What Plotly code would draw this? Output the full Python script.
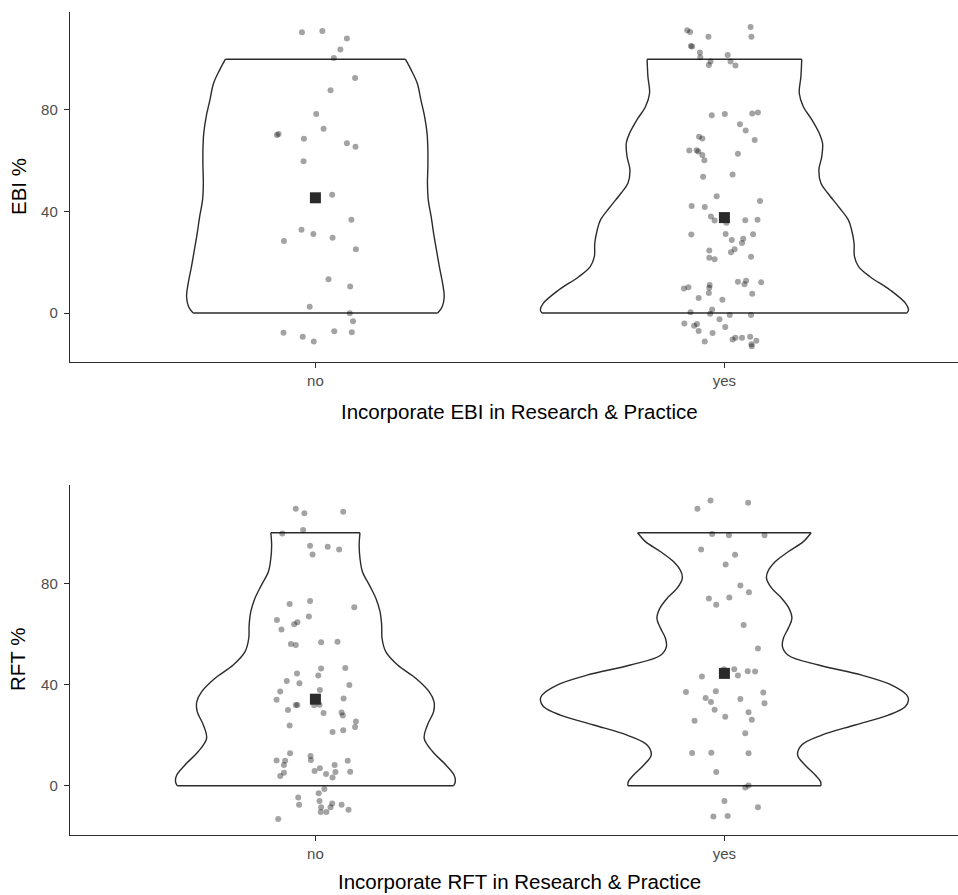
import plotly.graph_objects as go

# ---------------- data ----------------
categories = ["no", "yes"]
cat_pos = [1, 2]
y_ticks = [0, 40, 80]

# Violin outlines: value levels and half-widths (category units)
ebi_no_levels = [0, 2.5, 6.4, 11.7, 18.3, 24.8, 31.4, 38.0, 44.5, 51.1, 57.7, 64.2, 70.8, 77.4, 83.9, 90.5, 95.8, 100]
ebi_no_halfwidth = [0.299, 0.310, 0.315, 0.311, 0.303, 0.296, 0.289, 0.283, 0.276, 0.274, 0.275, 0.275, 0.273, 0.267, 0.258, 0.249, 0.234, 0.220]

ebi_yes_levels = [0, 1.2, 3.8, 9.1, 14.3, 18.3, 22.2, 27.5, 32.7, 36.7, 41.9, 47.2, 51.1, 56.4, 61.6, 66.9, 70.8, 76.1, 81.3, 86.6, 93.1, 100]
ebi_yes_halfwidth = [0.446, 0.450, 0.443, 0.405, 0.356, 0.328, 0.318, 0.317, 0.311, 0.303, 0.279, 0.253, 0.236, 0.231, 0.238, 0.240, 0.232, 0.214, 0.193, 0.183, 0.187, 0.189]

rft_no_levels = [0, 1.6, 4.2, 8.2, 13.4, 18.7, 24.0, 29.3, 33.2, 37.2, 42.4, 47.7, 53.0, 58.2, 63.5, 68.8, 74.0, 79.3, 84.6, 89.9, 95.1, 100]
rft_no_halfwidth = [0.338, 0.342, 0.339, 0.319, 0.287, 0.266, 0.274, 0.289, 0.290, 0.278, 0.246, 0.201, 0.172, 0.163, 0.162, 0.158, 0.148, 0.132, 0.115, 0.109, 0.107, 0.109]

rft_yes_levels = [0, 1.6, 4.2, 8.2, 12.1, 16.1, 20.0, 24.0, 27.9, 31.2, 33.9, 35.8, 39.8, 43.7, 47.7, 51.6, 54.9, 58.2, 62.2, 66.1, 70.1, 74.1, 78.0, 82.0, 84.6, 88.5, 92.5, 96.5, 100]
rft_yes_halfwidth = [0.236, 0.235, 0.222, 0.197, 0.179, 0.189, 0.238, 0.320, 0.401, 0.442, 0.450, 0.446, 0.409, 0.336, 0.230, 0.156, 0.142, 0.144, 0.156, 0.165, 0.158, 0.140, 0.116, 0.103, 0.106, 0.124, 0.156, 0.193, 0.212]

# Jittered observations: horizontal jitter (category units) and jittered value
ebi_no_jitter = [-0.033, 0.017, 0.077, 0.061, 0.045, 0.097, 0.037, 0.002, 0.020, -0.094, -0.090, -0.028, 0.077, 0.098,
                 -0.029, 0.041, 0.088, -0.034, -0.005, 0.042, -0.077, 0.099, 0.032, 0.085, -0.014, 0.084, 0.092,
                 -0.078, -0.031, -0.004, 0.046, 0.089]
ebi_no_values = [110.6, 111.1, 108.2, 103.8, 100.5, 92.6, 87.8, 78.4, 72.6, 70.1, 70.5, 68.7, 66.9, 65.5,
                 59.8, 46.6, 36.8, 32.8, 31.1, 29.7, 28.4, 25.1, 13.3, 10.5, 2.5, -0.1, -3.2,
                 -7.8, -9.3, -11.2, -7.2, -7.6]

ebi_yes_jitter = [-0.091, -0.084, 0.064, -0.039, 0.066, -0.082, -0.079, -0.060, -0.059, 0.008, -0.034, -0.038, 0.015,
                  0.027, -0.031, 0.001, 0.068, 0.082, 0.038, 0.052, -0.062, -0.054, 0.074, -0.086, -0.068, -0.064,
                  -0.054, -0.049, 0.033, -0.052, 0.020, -0.019, 0.087, -0.080, -0.048, -0.033, -0.024, 0.005, 0.051,
                  0.081, -0.081, 0.003, 0.070, 0.018, 0.046, 0.043, -0.037, 0.025, 0.016, -0.037, -0.024, 0.065,
                  0.033, 0.053, 0.049, 0.090, -0.036, -0.037, -0.038, -0.099, -0.088, 0.068, -0.063, -0.005,
                  -0.030, -0.083, -0.035, 0.013, 0.065, -0.012, -0.098, -0.074, -0.067, -0.063, 0.002, -0.029,
                  -0.048, 0.020, 0.027, 0.043, 0.063, 0.078, 0.066, 0.067]
ebi_yes_values = [111.4, 110.7, 112.7, 108.8, 108.8, 105.2, 105.0, 102.6, 100.8, 101.7, 99.1, 97.7, 99.1,
                  97.5, 77.9, 78.4, 78.6, 79.0, 74.4, 71.9, 69.5, 68.8, 68.2, 64.0, 64.1, 63.6,
                  62.3, 60.2, 62.8, 53.7, 54.6, 46.0, 44.1, 42.2, 41.8, 38.0, 36.5, 35.6, 36.6,
                  36.8, 30.9, 31.1, 31.0, 28.8, 29.3, 27.6, 24.6, 25.1, 23.9, 21.8, 21.2, 22.2,
                  12.3, 12.7, 11.3, 12.1, 11.0, 10.0, 7.9, 9.7, 10.2, 7.6, 5.9, 5.2,
                  1.4, 0.3, -0.3, -0.8, -0.8, -2.4, -4.1, -5.0, -4.3, -7.1, -5.5, -7.9,
                  -11.2, -10.4, -9.7, -9.7, -9.3, -10.9, -12.3, -13.1]

rft_no_jitter = [-0.048, -0.027, 0.068, -0.030, -0.081, -0.013, 0.030, 0.058, -0.007, -0.013, -0.063, 0.095,
                 -0.016, -0.094, -0.083, -0.052, -0.044, -0.060, -0.048, 0.014, 0.054, 0.014, 0.073, -0.045,
                 0.007, -0.070, -0.039, 0.083, 0.011, -0.086, -0.095, 0.069, -0.048, -0.044, -0.003, 0.010,
                 -0.067, 0.020, 0.064, 0.067, 0.099, 0.097, -0.063, 0.042, 0.068, -0.062, -0.012, -0.011,
                 0.079, -0.095, -0.074, -0.077, 0.047, 0.011, -0.002, -0.077, -0.086, 0.026, 0.049, 0.042,
                 0.085, 0.022, 0.008, -0.042, -0.040, 0.010, 0.041, 0.064, 0.014, 0.037, 0.013, 0.027,
                 0.081, -0.091]
rft_no_values = [109.5, 107.7, 108.3, 101.1, 99.7, 94.9, 94.5, 93.4, 91.4, 73.0, 71.8, 70.6,
                 66.9, 65.5, 61.8, 63.8, 64.6, 56.0, 55.6, 56.7, 56.9, 46.3, 46.5, 44.4,
                 43.6, 41.4, 40.5, 39.8, 37.8, 37.2, 34.0, 34.5, 31.9, 31.9, 31.8, 32.0,
                 29.9, 28.7, 28.9, 27.8, 25.4, 23.2, 23.8, 21.2, 21.9, 12.8, 11.7, 10.2,
                 9.9, 10.0, 9.9, 8.2, 8.2, 6.9, 5.8, 5.1, 3.8, 4.6, 5.4, 3.2,
                 5.5, -1.3, -3.0, -4.7, -7.5, -6.1, -7.0, -7.5, -8.5, -8.5, -10.4, -10.4,
                 -9.5, -13.2]

rft_yes_jitter = [-0.034, -0.066, 0.058, -0.030, 0.011, 0.098, -0.057, 0.026, 0.003, 0.039, 0.060, -0.038,
                  0.012, -0.020, 0.047, 0.082, -0.001, 0.024, 0.057, 0.075, -0.055, 0.033, -0.094, -0.021,
                  0.095, -0.046, -0.033, 0.039, 0.098, -0.024, 0.059, 0.002, 0.067, -0.073, 0.051, -0.079,
                  -0.032, 0.059, -0.020, 0.059, 0.051, 0.000, 0.082, -0.027, 0.008]
rft_yes_values = [112.8, 109.5, 111.9, 99.5, 99.0, 99.0, 93.4, 91.3, 87.5, 79.2, 76.5, 74.0,
                  74.4, 71.5, 63.5, 54.2, 46.0, 46.0, 45.2, 45.1, 43.2, 43.6, 37.0, 37.3,
                  36.8, 34.7, 33.1, 34.3, 32.6, 30.0, 29.0, 27.3, 26.1, 25.7, 20.7, 12.9,
                  13.0, 12.8, 5.4, 0.1, -0.7, -6.1, -8.5, -12.2, -12.0]

ebi_means = [45.4, 37.6]
rft_means = [34.2, 44.4]

# ---------------- styling ----------------
LINE = "#2b2b2b"
FONT = "Liberation Sans, Arial, Helvetica, sans-serif"
TITLE_SIZE = 20.5

fig = go.Figure()


def add_violin(center, levels, hw, xa, ya):
    xs = [center + w for w in hw] + [None] + [center - w for w in hw] + \
         [None, center - hw[0], center + hw[0], None, center - hw[-1], center + hw[-1]]
    ys = list(levels) + [None] + list(levels) + [None, levels[0], levels[0], None, levels[-1], levels[-1]]
    fig.add_trace(go.Scatter(x=xs, y=ys, xaxis=xa, yaxis=ya, mode="lines",
                             line=dict(color=LINE, width=1.4, shape="spline", smoothing=1),
                             connectgaps=False, hoverinfo="skip", showlegend=False))


def add_points(center, jit, vals, xa, ya):
    fig.add_trace(go.Scatter(x=[center + j for j in jit], y=vals, xaxis=xa, yaxis=ya, mode="markers",
                             marker=dict(size=6, color="rgba(0,0,0,0.36)", line=dict(width=0)),
                             showlegend=False))


def add_means(means, xa, ya):
    fig.add_trace(go.Scatter(x=cat_pos, y=means, xaxis=xa, yaxis=ya, mode="markers",
                             marker=dict(size=11, symbol="square", color="#2b2b2b", line=dict(width=0)),
                             showlegend=False))


# top panel (EBI)
add_violin(cat_pos[0], ebi_no_levels, ebi_no_halfwidth, "x", "y")
add_violin(cat_pos[1], ebi_yes_levels, ebi_yes_halfwidth, "x", "y")
add_points(cat_pos[0], ebi_no_jitter, ebi_no_values, "x", "y")
add_points(cat_pos[1], ebi_yes_jitter, ebi_yes_values, "x", "y")
add_means(ebi_means, "x", "y")

# bottom panel (RFT)
add_violin(cat_pos[0], rft_no_levels, rft_no_halfwidth, "x2", "y2")
add_violin(cat_pos[1], rft_yes_levels, rft_yes_halfwidth, "x2", "y2")
add_points(cat_pos[0], rft_no_jitter, rft_no_values, "x2", "y2")
add_points(cat_pos[1], rft_yes_jitter, rft_yes_values, "x2", "y2")
add_means(rft_means, "x2", "y2")

xaxis_common = dict(range=[0.4, 2.5711], tickvals=cat_pos, ticktext=categories,
                    showline=True, linecolor=LINE, linewidth=1.4, ticks="outside", ticklen=5,
                    tickwidth=1.4, tickcolor=LINE, showgrid=False, zeroline=False,
                    tickfont=dict(family=FONT, size=15, color="#4d4d4d"), automargin=False)
yaxis_common = dict(tickvals=y_ticks, showline=True, linecolor=LINE, linewidth=1.4, ticks="outside",
                    ticklen=5, tickwidth=1.4, tickcolor=LINE, showgrid=False, zeroline=False,
                    ticklabelstandoff=3,
                    tickfont=dict(family=FONT, size=15, color="#4d4d4d"), automargin=False)

fig.update_layout(
    width=958, height=895,
    margin=dict(l=70, r=0, t=12, b=60),
    paper_bgcolor="white", plot_bgcolor="white",
    font=dict(family=FONT),
    xaxis=dict(domain=[0, 1], anchor="y", **xaxis_common),
    yaxis=dict(domain=[0.5747, 1.0], anchor="x", range=[-19.3, 118.6], **yaxis_common),
    xaxis2=dict(domain=[0, 1], anchor="y2", **xaxis_common),
    yaxis2=dict(domain=[0, 0.4253], anchor="x2", range=[-19.5, 118.9], **yaxis_common),
    annotations=[
        dict(text="Incorporate EBI in Research &amp; Practice", x=1.5, xref="x", y=0, yref="y domain",
             yanchor="middle", yshift=-49, showarrow=False,
             font=dict(family=FONT, size=TITLE_SIZE, color="black")),
        dict(text="Incorporate RFT in Research &amp; Practice", x=1.5, xref="x2", y=0, yref="y2 domain",
             yanchor="middle", yshift=-46, showarrow=False,
             font=dict(family=FONT, size=TITLE_SIZE, color="black")),
        dict(text="EBI %", x=0, xref="paper", xshift=-52, y=0.5, yref="y domain", textangle=-90,
             xanchor="center", yanchor="middle", showarrow=False,
             font=dict(family=FONT, size=TITLE_SIZE, color="black")),
        dict(text="RFT %", x=0, xref="paper", xshift=-52, y=0.5, yref="y2 domain", textangle=-90,
             xanchor="center", yanchor="middle", showarrow=False,
             font=dict(family=FONT, size=TITLE_SIZE, color="black")),
    ],
)

fig.write_html("out.html", config={"displayModeBar": False},
               post_script="document.body.style.margin='0';document.body.style.overflow='hidden';")
